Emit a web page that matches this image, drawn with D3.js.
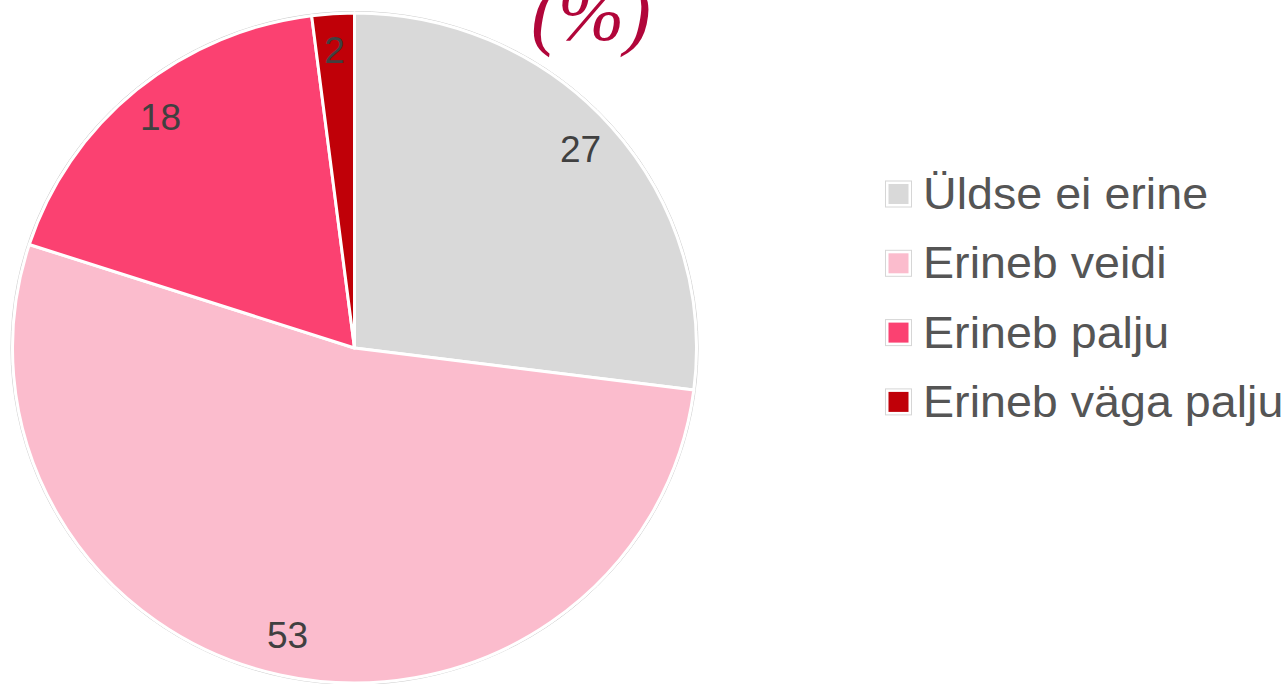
<!DOCTYPE html>
<html><head><meta charset="utf-8">
<script src="https://cdn.jsdelivr.net/npm/d3@7"></script>
<style>html,body{margin:0;padding:0;background:#fff;overflow:hidden}</style>
</head><body>
<svg id="chart" width="1287" height="684"></svg>
<script>
const categories = ["Üldse ei erine", "Erineb veidi", "Erineb palju", "Erineb väga palju"];
const values = [27, 53, 18, 2];
const colors = ["#d9d9d9", "#fbbccd", "#fb4171", "#c00008"];
const title = "(%)";

const svg = d3.select("#chart");
const cx = 354.5, cy = 348, r = 335, sx = 342 / 335;

// title (cut off at the top edge, as in the reference)
svg.append("text").attr("x", 591).attr("y", 40).attr("text-anchor", "middle")
  .attr("font-family", "Liberation Serif, serif").attr("font-style", "italic")
  .attr("font-size", 80).attr("fill", "#b1063a").text(title);

const data = categories.map((c, i) => ({cat: c, value: values[i], color: colors[i]}));
const pie = d3.pie().value(d => d.value).sort(null);
const arcs = pie(data);
const arc = d3.arc().innerRadius(0).outerRadius(r);
const labelArc = d3.arc().innerRadius(r * 0.885).outerRadius(r * 0.885);

const g = svg.append("g").attr("transform", `translate(${cx},${cy}) scale(${sx},1)`);
g.append("circle").attr("r", r + 1.5).attr("fill", "none")
  .attr("stroke", "#cfcfcf").attr("stroke-width", 1).attr("vector-effect", "non-scaling-stroke");
g.selectAll("path.slice").data(arcs).join("path").attr("class", "slice")
  .attr("d", arc).attr("fill", d => d.data.color)
  .attr("stroke", "#fff").attr("stroke-width", 3).attr("stroke-linejoin", "round")
  .attr("vector-effect", "non-scaling-stroke");

svg.append("g").selectAll("text").data(arcs).join("text")
  .attr("x", d => cx + labelArc.centroid(d)[0] * sx - 1)
  .attr("y", d => cy + labelArc.centroid(d)[1] - 2)
  .attr("text-anchor", "middle").attr("dominant-baseline", "central")
  .attr("font-family", "Liberation Sans, Arial, sans-serif").attr("font-size", 37)
  .attr("fill", "#404040").text(d => d.data.value);

// legend
const lg = svg.append("g").attr("transform", "translate(885,209)");
const rows = lg.selectAll("g").data(data).join("g")
  .attr("transform", (d, i) => `translate(0,${i * 69.3})`);
rows.append("rect").attr("x", 0.5).attr("y", -28).attr("width", 26).attr("height", 26)
  .attr("fill", "#fff").attr("stroke", "#d6d6d6").attr("stroke-width", 1);
rows.append("rect").attr("x", 3.5).attr("y", -25).attr("width", 20).attr("height", 20)
  .attr("fill", d => d.color);
rows.append("text").attr("transform", "translate(38,0) scale(1.06,1)")
  .attr("font-family", "Liberation Sans, Arial, sans-serif").attr("font-size", 44)
  .attr("fill", "#555").text(d => d.cat);
</script>
</body></html>
